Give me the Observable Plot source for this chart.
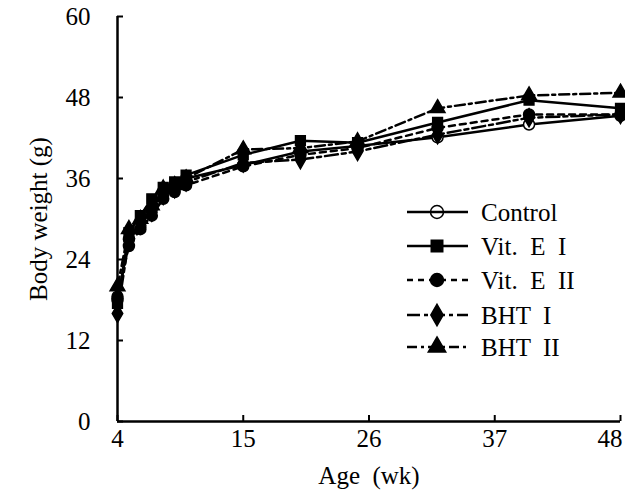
<!DOCTYPE html>
<html>
<head>
<meta charset="utf-8">
<script src="https://cdn.jsdelivr.net/npm/d3@7"></script>
<script src="https://cdn.jsdelivr.net/npm/@observablehq/plot@0.6"></script>
<style>
  html, body { margin: 0; padding: 0; background: #fff; }
  #chart svg { font-family: "Liberation Serif", "DejaVu Serif", serif; }
  #chart svg text { white-space: pre; }
</style>
</head>
<body>
<div id="chart"></div>
<script>
const weeks = [4, 5, 6, 7, 8, 9, 10, 15, 20, 25, 32, 40, 48];
const seriesNames = ["Control", "Vit.  E  I", "Vit.  E  II", "BHT  I", "BHT  II"];
const control = [18.0, 27.0, 29.0, 31.5, 34.0, 35.0, 36.0, 38.0, 40.0, 40.8, 42.1, 44.0, 45.3];
const vitE1   = [17.5, 28.0, 30.5, 33.0, 34.7, 35.5, 36.5, 39.5, 41.6, 41.3, 44.3, 47.6, 46.4];
const vitE2   = [18.5, 26.0, 28.5, 30.5, 33.0, 34.0, 35.0, 37.8, 39.5, 40.5, 43.5, 45.5, 45.5];
const bht1    = [16.0, 27.0, 29.5, 31.0, 33.5, 34.5, 35.5, 38.3, 38.8, 40.0, 42.5, 45.0, 45.5];
const bht2    = [20.0, 28.5, 30.0, 32.0, 34.5, 35.0, 36.0, 40.3, 40.5, 41.5, 46.4, 48.3, 48.7];
const xTicks = [4, 15, 26, 37, 48];
const yTicks = [0, 12, 24, 36, 48, 60];

const valueLists = [control, vitE1, vitE2, bht1, bht2];
const styles = [
  {symbol: "circle", fill: "white", dash: null},
  {symbol: "square", fill: "black", dash: null},
  {symbol: "circle", fill: "black", dash: "6,5"},
  {symbol: "diamond", fill: "black", dash: "13,4,4,4"},
  {symbol: "triangle", fill: "black", dash: "10,4,3,4"}
];
const rows = seriesNames.flatMap((s, i) => weeks.map((w, j) => ({series: s, week: w, value: valueLists[i][j]})));

const marks = [];
seriesNames.forEach((s, i) => {
  const data = rows.filter(d => d.series === s);
  marks.push(Plot.line(data, {x: "week", y: "value", stroke: "black", strokeWidth: 2.5, strokeDasharray: styles[i].dash}));
});
seriesNames.forEach((s, i) => {
  const data = rows.filter(d => d.series === s);
  marks.push(Plot.dot(data, {x: "week", y: "value", symbol: () => styles[i].symbol, r: 5.5, fill: styles[i].fill, stroke: "black", strokeWidth: 1.5}));
});

const chart = Plot.plot({
  width: 625,
  height: 491,
  marginLeft: 117,
  marginRight: 5,
  marginTop: 16,
  marginBottom: 70,
  style: {fontFamily: "Liberation Serif", fontSize: "25px", color: "black", background: "white"},
  x: {domain: [4, 48]},
  y: {domain: [0, 60]},
  symbol: {type: "identity"},
  marks: [
    Plot.axisX({ticks: xTicks.slice(0, -1), tickSize: 0, tickPadding: 8, tickFormat: d => String(d), fontSize: 25,
      label: "Age  (wk)", labelAnchor: "center", labelArrow: "none", labelOffset: 62}),
    Plot.axisX({ticks: xTicks.slice(-1), tickSize: 0, tickPadding: 8, tickFormat: d => String(d), fontSize: 25,
      textAnchor: "end", dx: 2, label: null}),
    Plot.axisX({ticks: xTicks, tickSize: -6, text: null, label: null, strokeWidth: 2}),
    Plot.axisY({ticks: yTicks, tickSize: 0, tickPadding: 27, tickFormat: d => String(d), fontSize: 25,
      label: "Body weight (g)", labelAnchor: "center", labelArrow: "none", labelOffset: 88}),
    Plot.axisY({ticks: yTicks, tickSize: -6, text: null, label: null, strokeWidth: 2}),
    ...marks,
    Plot.ruleX([4], {stroke: "black", strokeWidth: 2.5}),
    Plot.ruleY([0], {stroke: "black", strokeWidth: 2.5})
  ]
});
document.getElementById("chart").appendChild(chart);

// legend
const svg = d3.select(chart);
const leg = svg.append("g").attr("font-family", "Liberation Serif").attr("font-size", 25).attr("text-anchor", "start");
const rowY = [212, 246, 280, 315, 347];
const symMap = {circle: d3.symbolCircle, square: d3.symbolSquare, diamond: d3.symbolDiamond, triangle: d3.symbolTriangle};
seriesNames.forEach((s, i) => {
  const y = rowY[i];
  leg.append("line").attr("x1", 407).attr("x2", 468).attr("y1", y).attr("y2", y)
    .attr("stroke", "black").attr("stroke-width", 2.5)
    .attr("stroke-dasharray", styles[i].dash ? styles[i].dash : null);
  leg.append("path").attr("transform", `translate(437,${y})`)
    .attr("d", d3.symbol(symMap[styles[i].symbol], Math.PI * 42)())
    .attr("fill", styles[i].fill === "white" ? "none" : "black").attr("stroke", "black").attr("stroke-width", 1.5);
  leg.append("text").attr("x", 481).attr("y", y).attr("dy", "0.35em")
    .attr("text-anchor", "start").attr("fill", "black").text(s);
});
</script>
</body>
</html>
